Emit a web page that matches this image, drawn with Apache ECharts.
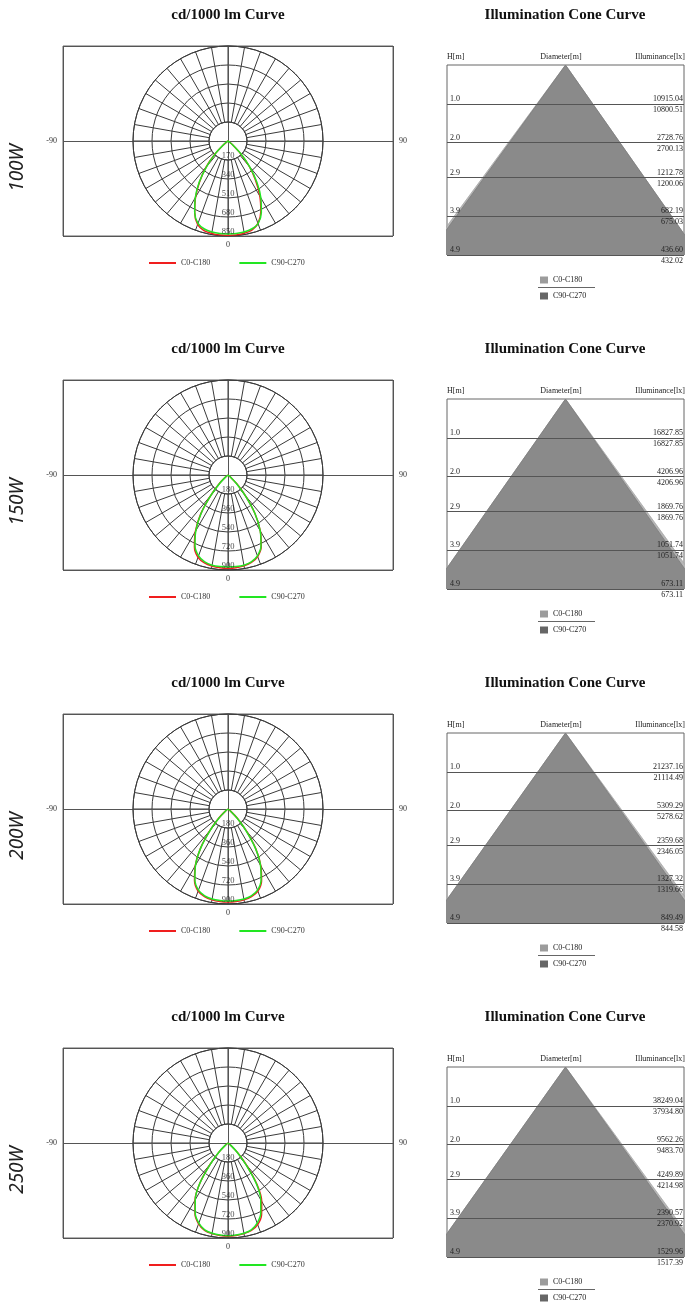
<!DOCTYPE html>
<html><head><meta charset="utf-8">
<script src="https://cdn.jsdelivr.net/npm/echarts@6/dist/echarts.min.js"></script>
<style>
html,body{margin:0;padding:0;background:#fff;}
#wrap{position:relative;width:686px;height:1303px;overflow:hidden;background:#fff;}
.c{position:absolute;}
</style></head><body><div id="wrap"></div>
<script>
// ---------- data ----------
const wattLabels = ['100W', '150W', '200W', '250W'];
const seriesNames = ['C0-C180', 'C90-C270'];
const gammaAngles = [-60,-55,-50,-45,-40,-35,-30,-25,-20,-15,-10,-5,0,5,10,15,20,25,30,35,40,45,50,55,60];

const ringTicks100W = [170, 340, 510, 680, 850];
const ringTicks150W = [180, 360, 540, 720, 900];
const ringTicks200W = [180, 360, 540, 720, 900];
const ringTicks250W = [180, 360, 540, 720, 900];

const c0Curve100W  = [0,10,58,165,305,440,580,705,795,830,840,845,846,845,838,825,785,695,570,430,295,158,55,8,0];
const c90Curve100W = [0,10,55,160,298,448,585,705,785,815,826,830,831,830,826,815,786,706,588,452,302,162,56,10,0];
const c0Curve150W  = [0,2,32,118,258,450,618,752,830,862,876,882,884,882,874,858,822,745,612,445,255,115,30,2,0];
const c90Curve150W = [0,2,30,110,250,445,610,740,815,852,868,871,872,871,868,852,815,740,610,445,250,110,30,2,0];
const c0Curve200W  = [0,3,35,125,265,455,620,750,828,860,874,880,882,880,874,860,828,752,622,458,268,125,35,3,0];
const c90Curve200W = [0,3,33,118,258,450,615,742,818,852,866,870,872,870,866,852,818,742,615,450,258,118,33,3,0];
const c0Curve250W  = [0,3,36,122,262,465,625,740,815,856,872,880,884,880,872,858,822,752,638,478,270,124,36,3,0];
const c90Curve250W = [0,3,35,120,260,465,620,735,808,852,868,876,878,876,868,852,808,735,620,465,260,120,35,3,0];

const coneHeights = [1.0, 2.0, 2.9, 3.9, 4.9];
const coneLux100W_C0  = [10915.04, 2728.76, 1212.78, 682.19, 436.60];
const coneLux100W_C90 = [10800.51, 2700.13, 1200.06, 675.03, 432.02];
const coneLux150W_C0  = [16827.85, 4206.96, 1869.76, 1051.74, 673.11];
const coneLux150W_C90 = [16827.85, 4206.96, 1869.76, 1051.74, 673.11];
const coneLux200W_C0  = [21237.16, 5309.29, 2359.68, 1327.32, 849.49];
const coneLux200W_C90 = [21114.49, 5278.62, 2346.05, 1319.66, 844.58];
const coneLux250W_C0  = [38249.04, 9562.26, 4249.89, 2390.57, 1529.96];
const coneLux250W_C90 = [37934.80, 9483.70, 4214.98, 2370.92, 1517.39];

// cone base edges (m, left/right of axis) at the lowest height
const coneEdges100W_C0  = [-3.60, 3.43];
const coneEdges100W_C90 = [-3.53, 3.43];
const coneEdges150W_C0  = [-3.43, 3.53];
const coneEdges150W_C90 = [-3.43, 3.43];
const coneEdges200W_C0  = [-3.48, 3.57];
const coneEdges200W_C90 = [-3.48, 3.48];
const coneEdges250W_C0  = [-3.48, 3.57];
const coneEdges250W_C90 = [-3.48, 3.48];

// ---------- assembly ----------
const ringTicks = [ringTicks100W, ringTicks150W, ringTicks200W, ringTicks250W];
const c0Curves = [c0Curve100W, c0Curve150W, c0Curve200W, c0Curve250W];
const c90Curves = [c90Curve100W, c90Curve150W, c90Curve200W, c90Curve250W];
const luxC0 = [coneLux100W_C0, coneLux150W_C0, coneLux200W_C0, coneLux250W_C0];
const luxC90 = [coneLux100W_C90, coneLux150W_C90, coneLux200W_C90, coneLux250W_C90];
const edgesC0 = [coneEdges100W_C0, coneEdges150W_C0, coneEdges200W_C0, coneEdges250W_C0];
const edgesC90 = [coneEdges100W_C90, coneEdges150W_C90, coneEdges200W_C90, coneEdges250W_C90];

const SERIF = '"Liberation Serif","Times New Roman",serif';
const RED = '#f01e1e', GREEN = '#22e622';
const GRID_LINE = '#3a3a3a';

function polarOption(i) {
  const ticks = ringTicks[i];
  const maxR = ticks[ticks.length - 1];
  const toPolar = arr => arr.map((v, k) => [v, gammaAngles[k]]);
  const center = [228, 141];
  return {
    animation: false,
    graphic: [
      { type: 'text', x: 228, y: 15, style: { text: 'cd/1000 lm Curve', font: 'bold 15px ' + SERIF, fill: '#111', align: 'center', verticalAlign: 'middle' } },
      { type: 'text', x: 18, y: 168, rotation: Math.PI / 2, style: { text: wattLabels[i], font: 'italic 19px "Noto Sans"', fill: '#222', align: 'center', verticalAlign: 'middle' } }
    ],
    legend: {
      data: [{ name: seriesNames[0], itemStyle: { color: RED } }, { name: seriesNames[1], itemStyle: { color: GREEN } }],
      icon: 'rect', itemWidth: 27, itemHeight: 2, itemGap: 29, left: 149, top: 259, padding: 0,
      textStyle: { fontSize: 8, fontFamily: SERIF, color: '#333' }
    },
    grid: { left: 63, top: 46, width: 330, height: 190, show: true, borderColor: '#666', borderWidth: 1 },
    xAxis: [{
      type: 'value', min: -1, max: 1, interval: 1,
      axisLine: { show: false }, axisTick: { show: false },
      splitLine: { show: true, lineStyle: { color: '#555', width: 1 } },
      axisLabel: { formatter: v => v === 0 ? '0' : '', fontSize: 8, fontFamily: SERIF, color: '#333', margin: 5 }
    }],
    yAxis: [{
      type: 'value', min: -1, max: 1, interval: 1,
      axisLine: { show: false }, axisTick: { show: false },
      splitLine: { show: true, lineStyle: { color: '#555', width: 1 } },
      axisLabel: { formatter: v => v === 0 ? '-90' : '', fontSize: 8, fontFamily: SERIF, color: '#333', margin: 6 }
    }, {
      type: 'value', position: 'right', min: -1, max: 1, interval: 1,
      axisLine: { show: false }, axisTick: { show: false }, splitLine: { show: false },
      axisLabel: { formatter: v => v === 0 ? '90' : '', fontSize: 8, fontFamily: SERIF, color: '#333', margin: 6 }
    }],
    polar: [{ center: center, radius: [0, 95] }, { center: center, radius: [19, 95] }],
    angleAxis: [
      { polarIndex: 0, type: 'value', min: -180, max: 180, startAngle: 90, clockwise: false, show: false },
      { polarIndex: 1, type: 'value', min: -180, max: 180, interval: 10, startAngle: 90, clockwise: false,
        axisLine: { show: true, lineStyle: { color: GRID_LINE, width: 1 } }, axisTick: { show: false }, axisLabel: { show: false },
        splitLine: { show: true, lineStyle: { color: GRID_LINE, width: 1 } } }
    ],
    radiusAxis: [
      { polarIndex: 0, type: 'value', min: 0, max: maxR, interval: ticks[0],
        axisLine: { show: false }, axisTick: { show: false }, axisLabel: { show: false },
        splitLine: { show: true, lineStyle: { color: GRID_LINE, width: 1 } } },
      { polarIndex: 1, type: 'value', min: 0, max: 1, show: false }
    ],
    series: [
      { type: 'line', name: seriesNames[0], coordinateSystem: 'polar', polarIndex: 0, data: toPolar(c0Curves[i]),
        symbol: 'none', smooth: 0.3, lineStyle: { color: RED, width: 1.5 }, itemStyle: { color: RED }, z: 10 },
      { type: 'line', name: seriesNames[1], coordinateSystem: 'polar', polarIndex: 0, data: toPolar(c90Curves[i]),
        symbol: 'none', smooth: 0.3, lineStyle: { color: GREEN, width: 1.5 }, itemStyle: { color: GREEN }, z: 11 },
      { type: 'scatter', coordinateSystem: 'polar', polarIndex: 0, silent: true, symbolSize: 1,
        itemStyle: { color: 'transparent' }, data: ticks.map(t => [t, 0]), z: 12,
        label: { show: true, position: 'inside', offset: [0, -4], formatter: p => String(p.value[0]),
          fontSize: 8.5, fontFamily: SERIF, color: '#222' } }
    ]
  };
}

function coneOption(i) {
  const hMax = coneHeights[coneHeights.length - 1];
  const cone = e => [[e[0], hMax], [0, 0], [e[1], hMax]];
  const ml = [];
  coneHeights.forEach((h, k) => {
    ml.push({ yAxis: h, label: { formatter: h.toFixed(1), position: 'insideStartTop', distance: [3, 1] } });
    ml.push({ yAxis: h, lineStyle: { color: 'rgba(0,0,0,0)' }, label: { formatter: luxC0[i][k].toFixed(2), position: 'insideEndTop', distance: [1, 1] } });
    ml.push({ yAxis: h, lineStyle: { color: 'rgba(0,0,0,0)' }, label: { formatter: luxC90[i][k].toFixed(2), position: 'insideEndBottom', distance: [1, 2] } });
  });
  return {
    animation: false,
    graphic: [
      { type: 'text', x: 135, y: 15, style: { text: 'Illumination Cone Curve', font: 'bold 15px ' + SERIF, fill: '#111', align: 'center', verticalAlign: 'middle' } },
      { type: 'text', x: 17, y: 57, style: { text: 'H[m]', font: '8px ' + SERIF, fill: '#222', align: 'left', verticalAlign: 'middle' } },
      { type: 'text', x: 131, y: 57, style: { text: 'Diameter[m]', font: '8px ' + SERIF, fill: '#222', align: 'center', verticalAlign: 'middle' } },
      { type: 'text', x: 255, y: 57, style: { text: 'Illuminance[lx]', font: '8px ' + SERIF, fill: '#222', align: 'right', verticalAlign: 'middle' } },
      { type: 'line', shape: { x1: 108, y1: 287.5, x2: 165, y2: 287.5 }, style: { stroke: '#666', lineWidth: 1 } }
    ],
    legend: {
      orient: 'vertical', left: 110, top: 276, padding: 0, itemWidth: 8, itemHeight: 7, itemGap: 8, icon: 'rect',
      data: [{ name: seriesNames[0], itemStyle: { color: '#9c9c9c' } }, { name: seriesNames[1], itemStyle: { color: '#666' } }],
      textStyle: { fontSize: 8, fontFamily: SERIF, color: '#222' }
    },
    grid: { left: 17, top: 65, width: 237, height: 190, show: true, borderColor: '#666', borderWidth: 1 },
    xAxis: { type: 'value', min: -3.05, max: 3.05, show: false },
    yAxis: { type: 'value', inverse: true, min: 0, max: hMax, show: false },
    series: [
      { type: 'line', name: seriesNames[0], data: cone(edgesC0[i]), symbol: 'none', clip: true,
        lineStyle: { color: '#a8a8a8', width: 0.8 }, itemStyle: { color: '#9c9c9c' },
        areaStyle: { color: '#b6b6b6', opacity: 1, origin: 'end' }, z: 2 },
      { type: 'line', name: seriesNames[1], data: cone(edgesC90[i]), symbol: 'none', clip: true,
        lineStyle: { color: '#7c7c7c', width: 0.8 }, itemStyle: { color: '#666' },
        areaStyle: { color: '#8a8a8a', opacity: 1, origin: 'end' }, z: 3 },
      { type: 'line', data: [[0, 0]], symbol: 'none', silent: true, z: 5,
        markLine: { silent: true, symbol: ['none', 'none'], animation: false,
          lineStyle: { color: '#555', width: 1, type: 'solid' },
          label: { fontSize: 8, fontFamily: SERIF, color: '#222' },
          emphasis: { disabled: true },
          data: ml } }
    ]
  };
}

const wrap = document.getElementById('wrap');
for (let i = 0; i < 4; i++) {
  const top = i * 334;
  const h = i === 3 ? 1303 - top : 334;
  const dl = document.createElement('div');
  dl.className = 'c'; dl.style.cssText = `left:0;top:${top}px;width:430px;height:${h}px;`;
  const dr = document.createElement('div');
  dr.className = 'c'; dr.style.cssText = `left:430px;top:${top}px;width:256px;height:${h}px;`;
  wrap.appendChild(dl); wrap.appendChild(dr);
  echarts.init(dl, null, { renderer: 'canvas' }).setOption(polarOption(i));
  echarts.init(dr, null, { renderer: 'canvas' }).setOption(coneOption(i));
}
</script></body></html>
